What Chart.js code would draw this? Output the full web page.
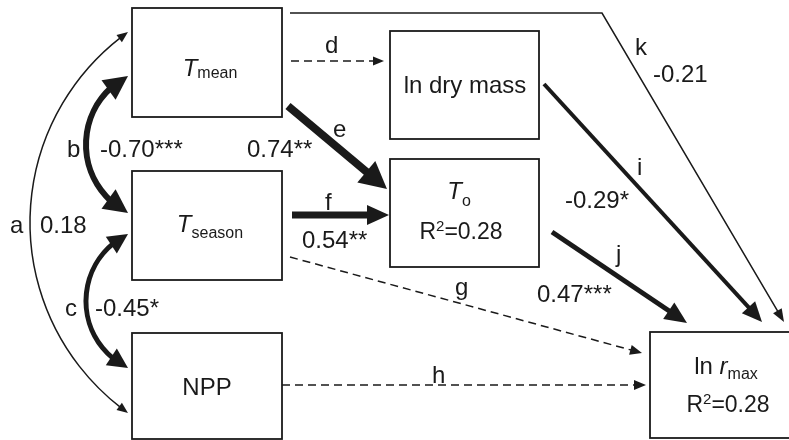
<!DOCTYPE html>
<html>
<head>
<meta charset="utf-8">
<script src="https://cdn.jsdelivr.net/npm/chart.js@4.4.1/dist/chart.umd.min.js"></script>
<style>
    html, body { margin: 0; padding: 0; background: #ffffff; }
    #wrap { width: 789px; height: 440px; }
</style>
</head>
<body>
<div id="wrap"><canvas id="pathChart" width="789" height="440"></canvas></div>
<script>
// 노드 이름 (앞부분 / 기호 / 아래첨자)
var nodePrefix = ['', '', 'NPP', 'ln dry mass', '', 'ln '];
var nodeSymbol = ['T', 'T', '', '', 'T', 'r'];
var nodeSub    = ['mean', 'season', '', '', 'o', 'max'];
var nodeR2     = [null, null, null, null, 0.28, 0.28];

// 경로 이름과 계수
var pathLetters = ['a', 'b', 'c', 'd', 'e', 'f', 'g', 'h', 'i', 'j', 'k'];
var pathCoefs   = ['0.18', '-0.70***', '-0.45*', '', '0.74**', '0.54**', '', '', '-0.29*', '0.47***', '-0.21'];

// 배치 (축 단위, 0..789 x 0..440)
var boxes = [
    [132, 8, 282, 117],
    [132, 171, 282, 280],
    [132, 333, 282, 439],
    [390, 31, 539, 139],
    [390, 159, 539, 267],
    [650, 332, 802, 438]
];
var textCenters = [[210, 76, 2], [210, 232, 6], [207, 395, 0], [465, 93, 0], [459, 199, 7], [726, 374, 5]];
var r2Baseline = [0, 0, 0, 0, 239, 412];

// 경로 모양: arc = 양방향 곡선, line = 직선(또는 꺾인 선)
var paths = [
    { kind: 'arc',  pts: [[128, 32], [30, 222], [128, 413]], w: 1.5, len: 11, half: 4.5 },
    { kind: 'arc',  pts: [[128, 76], [86, 144.5], [128, 213]], w: 6, len: 24, half: 12 },
    { kind: 'arc',  pts: [[128, 234], [86, 301], [128, 368]], w: 5, len: 20, half: 10 },
    { kind: 'line', pts: [[291, 61], [384, 61]], w: 1.5, len: 11, half: 4.5, dash: true },
    { kind: 'line', pts: [[288, 106], [387, 189]], w: 8, len: 27, half: 14 },
    { kind: 'line', pts: [[292, 215], [389, 215]], w: 7, len: 22, half: 10 },
    { kind: 'line', pts: [[290, 257], [642, 353]], w: 1.5, len: 12, half: 5, dash: true },
    { kind: 'line', pts: [[282, 385], [646, 385]], w: 1.5, len: 12, half: 5, dash: true },
    { kind: 'line', pts: [[544, 84], [762, 322]], w: 4, len: 20, half: 9 },
    { kind: 'line', pts: [[552, 232], [687, 323]], w: 5, len: 22, half: 10 },
    { kind: 'line', pts: [[290, 13], [602, 13], [784, 322]], w: 1.5, len: 13, half: 5 }
];
// 글자 위치 [문자 x, 계수 x, 기준선 y] (계수 없는 경우 문자만)
var labelPos = [
    [10, 40, 233], [67, 100, 157], [65, 95, 316], [325, 0, 53], [333, 247, 137],
    [325, 302, 210], [455, 0, 295], [432, 0, 383], [637, 565, 175], [616, 537, 262], [635, 653, 55]
];
var coefBaseline = [233, 157, 316, 0, 157, 248, 0, 0, 208, 302, 82];

var ink = '#1a1a1a';
var fam = '"Liberation Sans", Arial, sans-serif';

function drawHead(ctx, tip, from, len, half) {
    var dx = tip[0] - from[0], dy = tip[1] - from[1];
    var d = Math.sqrt(dx * dx + dy * dy);
    dx /= d; dy /= d;
    var bx = tip[0] - dx * len, by = tip[1] - dy * len;
    ctx.beginPath();
    ctx.moveTo(tip[0], tip[1]);
    ctx.lineTo(bx - dy * half, by + dx * half);
    ctx.lineTo(bx + dy * half, by - dx * half);
    ctx.closePath();
    ctx.fill();
}

function circle3(p1, p2, p3) {
    var ax = p1[0], ay = p1[1], bx = p2[0], by = p2[1], cx = p3[0], cy = p3[1];
    var d = 2 * (ax * (by - cy) + bx * (cy - ay) + cx * (ay - by));
    var ux = ((ax * ax + ay * ay) * (by - cy) + (bx * bx + by * by) * (cy - ay) + (cx * cx + cy * cy) * (ay - by)) / d;
    var uy = ((ax * ax + ay * ay) * (cx - bx) + (bx * bx + by * by) * (ax - cx) + (cx * cx + cy * cy) * (bx - ax)) / d;
    return [ux, uy, Math.sqrt((ax - ux) * (ax - ux) + (ay - uy) * (ay - uy))];
}

// 여러 조각 글자를 가운데 정렬로 그리기
function drawPieces(ctx, pieces, cx, y) {
    var total = 0;
    pieces.forEach(function(pc) { ctx.font = pc.f; pc.w = ctx.measureText(pc.t).width; total += pc.w; });
    var x = cx - total / 2;
    pieces.forEach(function(pc) {
        ctx.font = pc.f;
        ctx.fillText(pc.t, x, y + pc.dy);
        x += pc.w;
    });
}

var diagramPlugin = {
    id: 'diagram',
    afterDraw: function(chart) {
        var ctx = chart.ctx;
        var sx = chart.scales.x, sy = chart.scales.y;
        var P = function(p) { return [sx.getPixelForValue(p[0]), sy.getPixelForValue(p[1])]; };

        ctx.save();
        ctx.strokeStyle = ink;
        ctx.fillStyle = ink;

        // 상자
        ctx.lineWidth = 1.8;
        boxes.forEach(function(b) {
            var a = P([b[0], b[1]]), c = P([b[2], b[3]]);
            ctx.strokeRect(a[0], a[1], c[0] - a[0], c[1] - a[1]);
        });

        // 경로
        paths.forEach(function(p) {
            var pts = p.pts.map(P);
            ctx.lineWidth = p.w;
            ctx.lineCap = 'butt';
            ctx.setLineDash(p.dash ? [8, 5] : []);
            if (p.kind === 'arc') {
                var c = circle3(pts[0], pts[1], pts[2]);
                var a1 = Math.atan2(pts[0][1] - c[1], pts[0][0] - c[0]);
                var a3 = Math.atan2(pts[2][1] - c[1], pts[2][0] - c[0]);
                var dA = (p.len * 0.85) / c[2];
                ctx.beginPath();
                ctx.arc(c[0], c[1], c[2], a1 - dA, a3 + dA, true);
                ctx.stroke();
                ctx.setLineDash([]);
                var s1 = [c[0] + c[2] * Math.cos(a1 - p.len / c[2]), c[1] + c[2] * Math.sin(a1 - p.len / c[2])];
                var s3 = [c[0] + c[2] * Math.cos(a3 + p.len / c[2]), c[1] + c[2] * Math.sin(a3 + p.len / c[2])];
                drawHead(ctx, pts[0], s1, p.len, p.half);
                drawHead(ctx, pts[2], s3, p.len, p.half);
            } else {
                var n = pts.length;
                var tip = pts[n - 1], prev = pts[n - 2];
                var dx = tip[0] - prev[0], dy = tip[1] - prev[1];
                var d = Math.sqrt(dx * dx + dy * dy);
                var end = [tip[0] - dx / d * p.len * 0.85, tip[1] - dy / d * p.len * 0.85];
                ctx.beginPath();
                ctx.moveTo(pts[0][0], pts[0][1]);
                for (var i = 1; i < n - 1; i++) ctx.lineTo(pts[i][0], pts[i][1]);
                ctx.lineTo(end[0], end[1]);
                ctx.stroke();
                ctx.setLineDash([]);
                drawHead(ctx, tip, prev, p.len, p.half);
            }
        });

        // 노드 글자
        ctx.textBaseline = 'alphabetic';
        ctx.textAlign = 'left';
        nodePrefix.forEach(function(pre, k) {
            var pieces = [];
            if (pre) pieces.push({ t: pre, f: '24px ' + fam, dy: 0 });
            if (nodeSymbol[k]) pieces.push({ t: nodeSymbol[k], f: 'italic 24px ' + fam, dy: 0 });
            if (nodeSub[k]) pieces.push({ t: nodeSub[k], f: '16px ' + fam, dy: textCenters[k][2] });
            var pos = P([textCenters[k][0], textCenters[k][1]]);
            drawPieces(ctx, pieces, pos[0], pos[1]);
            if (nodeR2[k] !== null) {
                var rp = P([textCenters[k][0] + 2, r2Baseline[k]]);
                drawPieces(ctx, [
                    { t: 'R', f: '23px ' + fam, dy: 0 },
                    { t: '2', f: '15px ' + fam, dy: -8 },
                    { t: '=' + nodeR2[k].toFixed(2), f: '23px ' + fam, dy: 0 }
                ], rp[0], rp[1]);
            }
        });

        // 경로 글자와 계수
        ctx.font = '24px ' + fam;
        pathLetters.forEach(function(letter, k) {
            var lp = P([labelPos[k][0], labelPos[k][2]]);
            ctx.fillText(letter, lp[0], lp[1]);
            if (pathCoefs[k]) {
                var cp = P([labelPos[k][1], coefBaseline[k]]);
                ctx.fillText(pathCoefs[k], cp[0], cp[1]);
            }
        });
        ctx.restore();
    }
};

document.addEventListener('DOMContentLoaded', function() {
    var ctx = document.getElementById('pathChart').getContext('2d');

    // 노드 중심점 (보이지 않는 점)
    var centers = boxes.map(function(b) { return { x: (b[0] + b[2]) / 2, y: (b[1] + b[3]) / 2 }; });

    new Chart(ctx, {
        type: 'scatter',
        data: {
            datasets: [{
                data: centers,
                pointRadius: 0,
                pointHoverRadius: 0
            }]
        },
        options: {
            responsive: false,
            animation: false,
            layout: { padding: 0 },
            plugins: {
                legend: { display: false },
                tooltip: { enabled: false }
            },
            scales: {
                x: { type: 'linear', min: 0, max: 789, display: false },
                y: { type: 'linear', min: 0, max: 440, reverse: true, display: false }
            }
        },
        plugins: [diagramPlugin]
    });
});
</script>
</body>
</html>
